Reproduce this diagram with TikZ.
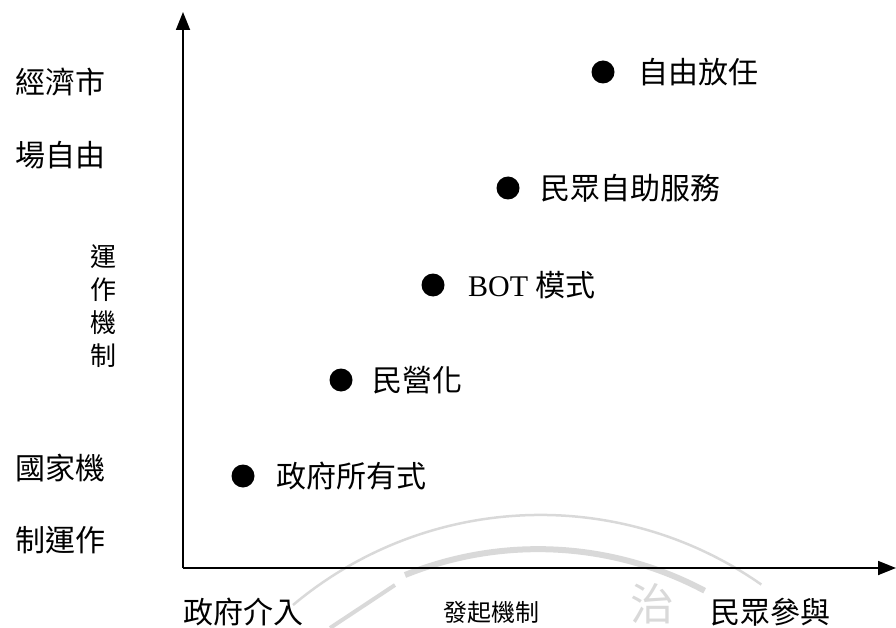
\documentclass[tikz,border=0pt]{standalone}
\usepackage{fontspec}
\setmainfont{Liberation Serif}
\newfontfamily\cjk{Noto Sans CJK TC}
\usetikzlibrary{arrows.meta}
\begin{document}
\begin{tikzpicture}[x=1pt,y=-1pt,
  axisline/.style={line width=1.8pt,-{Triangle[length=18pt,width=14pt]}},
  dot/.style={circle,fill=black,inner sep=0pt,minimum size=23pt},
  lab/.style={anchor=west,inner sep=0pt,font=\fontsize{30}{30}\selectfont\cjk},
  side/.style={inner sep=0pt,font=\fontsize{30}{30}\selectfont\cjk},
  small/.style={inner sep=0pt,font=\fontsize{24}{24}\selectfont\cjk},
  wm/.style={draw=black!15,line width=5pt}]
\useasboundingbox (0,0) rectangle (896,628);
% watermark
\draw[wm,line width=2.5pt] (293,605) arc[start angle=230,end angle=305,radius=385];
\draw[wm,line width=6pt] (405,575) arc[start angle=248,end angle=298,radius=355];
\draw[wm,line width=4pt] (330,628) -- (395,585);
\node[inner sep=0pt,text=black!15,font=\fontsize{44}{44}\selectfont\cjk] (wmz) at (652,604) {治};
% axes
\coordinate (o) at (183,568);
\coordinate (ytip) at (183,12);
\coordinate (xtip) at (896,568);
\draw[axisline] (o) -- (ytip);
\draw[axisline] (o) -- (xtip);
% points
\node[dot] (d1) at (603,72) {};
\node[lab] (l1) at (638,72) {自由放任};
\node[dot] (d2) at (508,188) {};
\node[lab] (l2) at (540,188) {民眾自助服務};
\node[dot] (d3) at (433,285) {};
\node[lab] (l3) at (468,285) {\fontsize{30}{30}\selectfont\rmfamily BOT \cjk 模式};
\node[dot] (d4) at (341,380) {};
\node[lab] (l4) at (372,380) {民營化};
\node[dot] (d5) at (243,476) {};
\node[lab] (l5) at (276,476) {政府所有式};
% y labels
\node[side] (t1) at (60,82) {經濟市};
\node[side] (t2) at (60,155) {場自由};
\node[side] (b1) at (60,468) {國家機};
\node[side] (b2) at (60,540) {制運作};
\node[small,align=center,font=\fontsize{26}{33}\selectfont\cjk] (ym) at (103,306) {運\\作\\機\\制};
% x labels
\node[side] (x1) at (243,612) {政府介入};
\node[small] (xm) at (491,612) {發起機制};
\node[side] (x2) at (770,612) {民眾參與};
\end{tikzpicture}
\end{document}
